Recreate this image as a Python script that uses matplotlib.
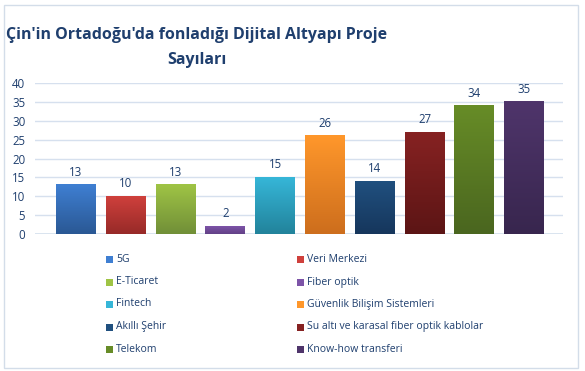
import numpy as np
import matplotlib.pyplot as plt
from matplotlib.colors import LinearSegmentedColormap
from matplotlib.patches import Rectangle

categories = ["5G", "Veri Merkezi", "E-Ticaret", "Fiber optik", "Fintech",
              "Güvenlik Bilişim Sistemleri", "Akıllı Şehir",
              "Su altı ve karasal fiber optik kablolar", "Telekom", "Know-how transferi"]
values = [13, 10, 13, 2, 15, 26, 14, 27, 34, 35]
top_colors = ["#3f7fd2", "#cf403c", "#9fc445", "#7d54a8", "#36b6d8",
              "#ff972b", "#20507f", "#862222", "#678c27", "#4f356b"]
bottom_colors = ["#2a5894", "#972a28", "#718f38", "#624186", "#22839b",
                 "#cd6e1d", "#16365c", "#5c1515", "#4a661f", "#38264e"]
yticks = [0, 5, 10, 15, 20, 25, 30, 35, 40]

text_col = "#1f3f6e"
grid_col = "#d6e0ee"

fig = plt.figure(figsize=(5.85, 3.71), dpi=100)
plt.rcParams['font.family'] = ['Open Sans', 'DejaVu Sans']

# outer border of the chart area
fig.patches.append(Rectangle((4/585, 1-368/371), 574/585, 363/371, transform=fig.transFigure,
                             fill=False, ec="#d3dde9", lw=1))

fig.text(197/585, 1-35/371, "Çin'in Ortadoğu'da fonladığı Dijital Altyapı Proje",
         ha='center', va='center', fontsize=11.5, fontweight='bold', color=text_col)
fig.text(197/585, 1-60/371, "Sayıları", ha='center', va='center',
         fontsize=11.5, fontweight='bold', color=text_col)

ax = fig.add_axes([35/585, 1-234/371, 528/585, 151/371])
x = np.arange(len(values))
w = 0.8
grad = np.linspace(0, 1, 100).reshape(-1, 1)
for i, v in enumerate(values):
    cmap = LinearSegmentedColormap.from_list("g%d" % i, [bottom_colors[i], top_colors[i]])
    ax.imshow(grad, extent=[x[i]-w/2, x[i]+w/2, 0, v], origin='lower',
              cmap=cmap, aspect='auto', zorder=3)
    ax.annotate(str(v), (x[i], v), xytext=(0, 6), textcoords='offset pixels',
                ha='center', va='bottom', fontsize=8.3, color=text_col)

ax.set_xlim(-0.82, 9.78)
ax.set_ylim(0, 40)
ax.set_yticks(yticks)
ax.set_xticks([])
ax.tick_params(axis='y', length=0, labelsize=8.3, labelcolor=text_col, pad=7)
ax.grid(axis='y', color=grid_col, lw=1, zorder=0)
for s in ax.spines.values():
    s.set_visible(False)
ax.axhline(0, color=grid_col, lw=1.2, zorder=1)

# legend, laid out row by row in two columns
row_y = [259, 282, 304, 327, 349]
col_x = [106, 297]
for i, name in enumerate(categories):
    cx = col_x[i % 2]
    cy = row_y[i // 2]
    fig.patches.append(Rectangle((cx/585, 1-(cy+3.5)/371), 6.5/585, 6.5/371,
                                 transform=fig.transFigure, fc=top_colors[i], ec='none'))
    fig.text((cx+10)/585, 1-cy/371, name, ha='left', va='center',
             fontsize=7.5, color=text_col)

fig.savefig("out.png", dpi=100)
